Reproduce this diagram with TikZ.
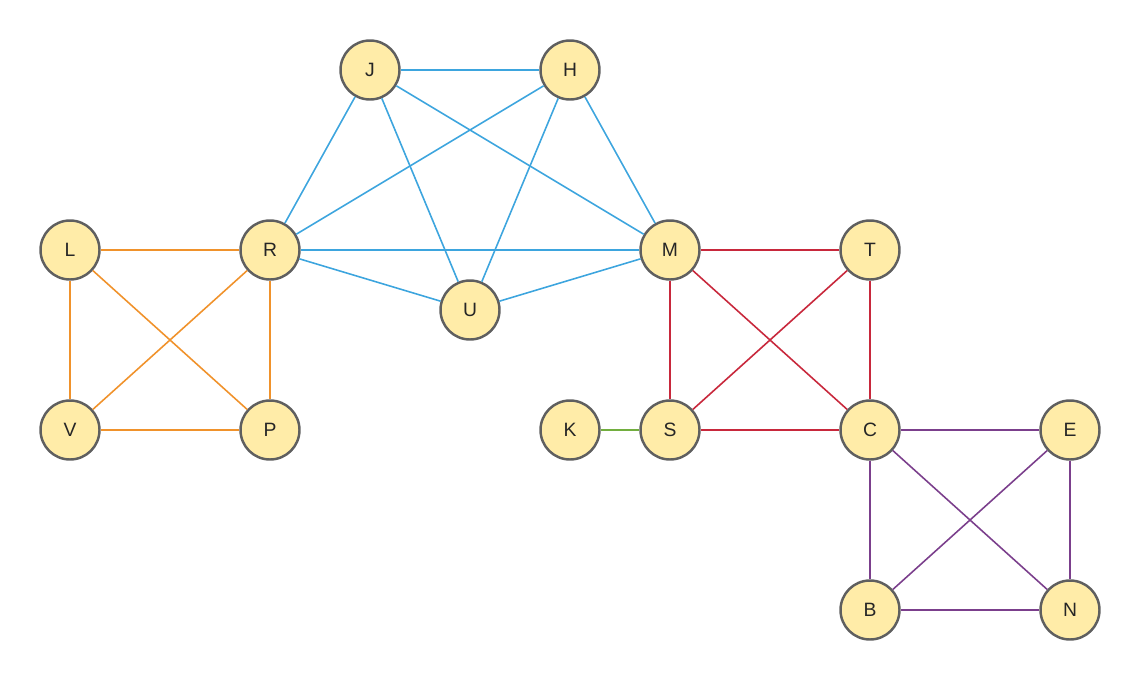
\documentclass[tikz,border=0pt]{standalone}
\usepackage{fontspec}
\setmainfont{Liberation Sans}
\usepackage{tikz}
\usetikzlibrary{positioning}

\definecolor{vfill}{HTML}{FFECA8}
\definecolor{vdraw}{HTML}{5F5F5F}
\definecolor{eblue}{HTML}{3DA5DE}
\definecolor{eorange}{HTML}{F0922B}
\definecolor{ered}{HTML}{C8283C}
\definecolor{egreen}{HTML}{72AE3F}
\definecolor{epurple}{HTML}{7B3F8C}

\begin{document}
\begin{tikzpicture}[
    x=0.02cm, y=-0.02cm,
    vertex/.style={circle, draw=vdraw, fill=vfill, line width=1.4pt, minimum size=1.18cm, inner sep=0pt, font=\fontsize{11}{13}\selectfont, text=black!85},
    edge/.style={line width=0.9pt}
]
\useasboundingbox (0,0) rectangle (1140,680);

\node[vertex] (J) at (370,70) {J};
\node[vertex] (H) at (570,70) {H};
\node[vertex] (L) at (70,250) {L};
\node[vertex] (R) at (270,250) {R};
\node[vertex] (M) at (670,250) {M};
\node[vertex] (T) at (870,250) {T};
\node[vertex] (U) at (470,310) {U};
\node[vertex] (V) at (70,430) {V};
\node[vertex] (P) at (270,430) {P};
\node[vertex] (K) at (570,430) {K};
\node[vertex] (S) at (670,430) {S};
\node[vertex] (C) at (870,430) {C};
\node[vertex] (E) at (1070,430) {E};
\node[vertex] (B) at (870,610) {B};
\node[vertex] (N) at (1070,610) {N};

% edges, one colour per group
\foreach \a/\b in {J/H, J/R, J/U, J/M, H/R, H/U, H/M, R/M, R/U, U/M}
    \draw[edge, eblue] (\a) -- (\b);
\foreach \a/\b in {L/R, L/V, L/P, R/V, R/P, V/P}
    \draw[edge, eorange] (\a) -- (\b);
\foreach \a/\b in {M/T, M/S, M/C, T/S, T/C, S/C}
    \draw[edge, ered] (\a) -- (\b);
\draw[edge, egreen] (K) -- (S);
\foreach \a/\b in {C/E, C/B, C/N, E/B, E/N, B/N}
    \draw[edge, epurple] (\a) -- (\b);
\end{tikzpicture}
\end{document}
